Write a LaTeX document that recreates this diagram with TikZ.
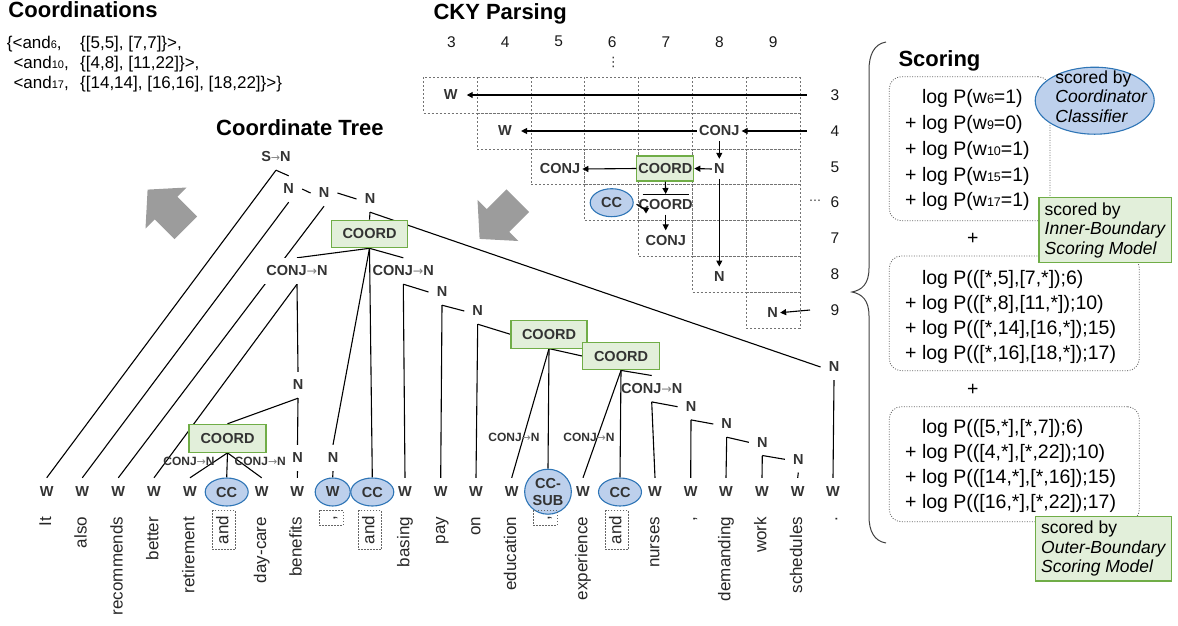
\documentclass[tikz,border=0pt]{standalone}
\usepackage{fontspec}
\setmainfont{Liberation Sans}
\newfontfamily\arrowfont{DejaVu Sans}
\usetikzlibrary{shapes.geometric,arrows.meta}
\pgfdeclarelayer{background}
\pgfsetlayers{background,main}
\definecolor{txt}{HTML}{333333}
\definecolor{gfill}{HTML}{E2EFDA}
\definecolor{gline}{HTML}{70AD47}
\definecolor{bfill}{HTML}{BDD0EC}
\definecolor{bline}{HTML}{2E75B6}
\definecolor{garrow}{HTML}{9C9C9C}
\newcommand\mylab{\fontsize{14.5}{17}\selectfont\bfseries}
\newcommand\mysmall{\fontsize{12}{14}\selectfont\bfseries}
\newcommand\myword{\fontsize{17}{20}\selectfont}
\newcommand\mynum{\fontsize{15.5}{18}\selectfont}
\newcommand\myscore{\fontsize{19.5}{24}\selectfont}
\newcommand\mynote{\fontsize{17.5}{19.5}\selectfont}
\newcommand\mytitle{\fontsize{22}{26}\selectfont\bfseries}
\newcommand\mycoord{\fontsize{17}{20}\selectfont}
\newcommand\myarr[1]{{\arrowfont\fontsize{#1}{#1}\selectfont\mdseries\color{gray}→}}
\newcommand\ssub[1]{{\fontsize{12.5}{12.5}\selectfont #1}}
\newcommand\csub[1]{{\fontsize{11}{11}\selectfont #1}}
\begin{document}
\begin{tikzpicture}[x=1pt,y=-1pt,
  title/.style={font=\mytitle, inner sep=0pt, text=black, anchor=base west},
  cl/.style={font=\mycoord, inner sep=0pt, anchor=base west, text=black},
  lab/.style={font=\mylab, text=txt, inner xsep=8pt, inner ysep=0pt, minimum height=26pt},
  wlab/.style={font=\mylab, text=txt, inner xsep=3pt, inner ysep=0pt, minimum height=28pt},
  ccell/.style={ellipse, draw=bline, fill=bfill, line width=1.1pt, font=\mylab, text=txt, inner sep=0pt, minimum width=43pt, minimum height=28pt},
  coordbox/.style={draw=gline, fill=gfill, line width=1.1pt, font=\mylab, text=txt, minimum width=76pt, minimum height=27.5pt, inner sep=0pt},
  smalllab/.style={font=\mysmall, text=txt, inner sep=0pt},
  word/.style={rotate=90, anchor=east, font=\myword, text=black!85, inner sep=0pt, text height=12.2pt, text depth=3.6pt},
  wordbox/.style={word, draw=black!60, dash pattern=on 1.5pt off 1.5pt, line width=0.8pt, inner xsep=5.5pt, inner ysep=3.3pt},
  tline/.style={line width=1.1pt, black},
  ckylab/.style={font=\mylab, text=txt, inner xsep=2pt, inner ysep=5pt},
  ckyarr/.style={-{Triangle[length=6pt,width=6pt]}, line width=1.1pt, black},
  cell/.style={draw=black!55, dash pattern=on 2pt off 2pt, line width=0.8pt},
  num/.style={font=\mynum, text=black!90, inner sep=0pt},
  scorebox/.style={draw=black!60, dash pattern=on 1pt off 1.5pt, rounded corners=12pt, line width=0.8pt, inner sep=0pt},
  sline/.style={font=\myscore, anchor=base west, inner sep=0pt, text=black},
  notebox/.style={draw=gline, fill=gfill, line width=1.1pt, font=\mynote, text=black, align=left, inner sep=0pt},
  bigarrow/.style={fill=garrow, draw=none}
]
\useasboundingbox (0,0) rectangle (1178,625);

% ---------------- titles ----------------
\node[title] (t1) at (8.3,17.7) {Coordinations};
\node[title] (t2) at (433.3,19) {CKY Parsing};
\node[title] (t3) at (216,135) {Coordinate Tree};
\node[title] (t4) at (898.3,66.5) {Scoring};

% ---------------- coordinations ----------------
\node[cl] (cl1) at (6.7,48.5) {\{<and\csub{6},};
\node[cl] (cl1b) at (80,48.5) {\{[5,5], [7,7]\}>,};
\node[cl] (cl2) at (13.3,68.3) {<and\csub{10},};
\node[cl] (cl2b) at (80,68.3) {\{[4,8], [11,22]\}>,};
\node[cl] (cl3) at (13.3,88) {<and\csub{17},};
\node[cl] (cl3b) at (80,88) {\{[14,14], [16,16], [18,22]\}>\}};

% ---------------- gray block arrows ----------------
\fill[bigarrow] (147.6,189.6) -- (186.5,187.5) -- (177.3,196.7) -- (197.1,216.5) -- (174.5,239.1) -- (154.7,219.3) -- (145.5,228.5) -- cycle;
\fill[bigarrow] (479.6,238.9) -- (518.5,241) -- (509.3,231.8) -- (529.1,212) -- (506.5,189.4) -- (486.7,209.2) -- (477.5,199.9) -- cycle;

% ---------------- CKY table ----------------
\foreach \c [count=\i from 0] in {3,...,9} {
  \node[num] (hc\c) at ({451.5+53.6*\i},41.7) {\c};
  \node[num] (hr\c) at (835,{95.2+35.8*\i}) {\c};
}
\node[font=\arrowfont\fontsize{13}{13}\selectfont, inner sep=0pt, text=black!80] (vd) at (613.3,62) {⋮};
\node[font=\arrowfont\fontsize{12}{12}\selectfont, inner sep=0pt, text=black!80] (hd) at (815,202.7) {⋯};
\begin{pgfonlayer}{background}
\foreach \r in {3,...,9} {
  \foreach \c in {\r,...,9} {
    \draw[cell] ({423.3+53.8*(\c-3)},{77.3+35.8*(\r-3)}) rectangle ++(53.8,35.8);
  }
}
\end{pgfonlayer}
\node[ckylab] (k3w) at (450.7,95) {W};
\node[ckylab] (k4w) at (505,131) {W};
\node[ckylab] (k4c) at (719.3,131) {CONJ};
\node[ckylab] (k5c) at (560,169) {CONJ};
\node[draw=gline, fill=gfill, line width=1.1pt, font=\mylab, text=txt, minimum width=57pt, minimum height=25pt, inner sep=0pt] (k5co) at (665.3,168.5) {COORD};
\node[ckylab] (k5n) at (719.3,169) {N};
\node[ccell] (k6cc) at (611.7,202.7) {CC};
\node[ckylab] (k6co) at (665.7,204.3) {COORD};
\node[ckylab] (k7c) at (665.7,240.7) {CONJ};
\node[ckylab] (k8n) at (719.3,276.7) {N};
\node[ckylab] (k9n) at (772.7,312.7) {N};
\coordinate (s3) at (806.7,95);
\coordinate (s4) at (806.7,131);
\coordinate (s9) at (810,310);
\draw[line width=1pt] ([xshift=6pt,yshift=-1pt]k6co.north west) -- ([xshift=-6pt,yshift=-1pt]k6co.north east);
\draw[ckyarr, shorten >=7pt] (s3) -- (k3w.east);
\draw[ckyarr] (s4) -- (k4c.east);
\draw[ckyarr, shorten >=7pt] (k4c.west) -- (k4w.east);
\draw[ckyarr] (k4c.south) -- (k5n.north);
\draw[ckyarr] (k5n.west) -- (k5co.east);
\draw[ckyarr] (k5co.west) -- (k5c.east);
\draw[ckyarr] (k5n.south) -- (k8n.north);
\draw[ckyarr] (k5co.south) -- (k6co.north);
\draw[ckyarr, shorten >=10pt] (k6co.west) -- (k6cc.east);
\draw[ckyarr] (k6co.south) -- (k7c.north);
\draw[ckyarr] (s9) -- (k9n.east);

% ---------------- tree: leaves ----------------
\node[wlab] (w0) at (46.7,492) {W};
\node[wlab] (w1) at (82.3,492) {W};
\node[wlab] (w2) at (118.3,492) {W};
\node[wlab] (w3) at (154,492) {W};
\node[wlab] (w4) at (190,492) {W};
\node[ccell] (w5) at (226.7,492) {CC};
\node[wlab] (w6) at (261.7,492) {W};
\node[wlab] (w7) at (297.3,492) {W};
\node[ccell, minimum width=35pt] (w8) at (332.7,492) {W};
\node[ccell] (w9) at (372.3,492) {CC};
\node[wlab] (w10) at (405,492) {W};
\node[wlab] (w11) at (440.7,492) {W};
\node[wlab] (w12) at (476,492) {W};
\node[wlab] (w13) at (511.7,492) {W};
\node[ccell, minimum width=46.7pt, minimum height=45pt, align=center] (w14) at (548,491.7) {CC-\\SUB};
\node[wlab] (w15) at (583,492) {W};
\node[ccell] (w16) at (620,492) {CC};
\node[wlab] (w17) at (655,492) {W};
\node[wlab] (w18) at (690.7,492) {W};
\node[wlab] (w19) at (726,492) {W};
\node[wlab] (w20) at (762,492) {W};
\node[wlab] (w21) at (797.7,492) {W};
\node[wlab] (w22) at (833,492) {W};

% words
\node[word] (x0) at (46.7,516.7) {It};
\node[word] (x1) at (82.3,516.7) {also};
\node[word] (x2) at (118.3,516.7) {recommends};
\node[word] (x3) at (154,516.7) {better};
\node[word] (x4) at (190,516.7) {retirement};
\node[wordbox] (x5) at (224,510) {and};
\node[word] (x6) at (261.7,516.7) {day-care};
\node[word] (x7) at (297.3,516.7) {benefits};
\node[wordbox, inner xsep=5pt, inner ysep=4pt, minimum width=15pt] (x8) at (331,510) {,};
\node[wordbox] (x9) at (370,510) {and};
\node[word] (x10) at (405,516.7) {basing};
\node[word] (x11) at (440.7,516.7) {pay};
\node[word] (x12) at (476,516.7) {on};
\node[word] (x13) at (511.7,516.7) {education};
\node[wordbox, inner xsep=5pt, inner ysep=4pt, minimum width=15pt] (x14) at (545.3,510) {,};
\node[word] (x15) at (583,516.7) {experience};
\node[wordbox] (x16) at (617,510) {and};
\node[word] (x17) at (655,516.7) {nurses};
\node[word] (x18) at (690.7,516.7) {,};
\node[word] (x19) at (726,516.7) {demanding};
\node[word] (x20) at (762,516.7) {work};
\node[word] (x21) at (797.7,516.7) {schedules};
\node[word] (x22) at (833,516.7) {.};

% ---------------- tree: inner nodes ----------------
\node[lab] (sn) at (276,157) {S\myarr{11}N};
\node[lab] (n1) at (288.7,189) {N};
\node[lab] (n2) at (324,193) {N};
\node[lab] (n3) at (370,199) {N};
\node[coordbox] (co) at (369.5,234) {COORD};
\node[lab, fill=white] (cjl) at (297,271) {CONJ\myarr{12.5}N};
\node[lab] (cjr) at (403.3,271) {CONJ\myarr{12.5}N};
\node[lab] (nm) at (298,385) {N};
\node[lab] (n7) at (297.5,458) {N};
\node[lab] (n8) at (333,458) {N};
\node[coordbox, minimum width=77pt, minimum height=28pt] (c1) at (227.5,438.3) {COORD};
\node[lab] (na) at (442,292) {N};
\node[lab] (nb) at (477.7,311) {N};
\node[coordbox] (c2) at (549,334.3) {COORD};
\node[coordbox, minimum width=76.6pt, minimum height=27.7pt] (c3) at (621,356) {COORD};
\node[lab] (cjr2) at (651.7,388.7) {CONJ\myarr{12.5}N};
\node[lab] (nc) at (691,406.7) {N};
\node[lab] (nd) at (726.7,424) {N};
\node[lab] (ne) at (762.3,442.3) {N};
\node[lab] (nf) at (798.3,459.3) {N};
\node[lab] (nr) at (834,367) {N};
\node[smalllab] (sl1) at (189,461) {CONJ\myarr{11}N};
\node[smalllab] (sl2) at (260.3,461) {CONJ\myarr{11}N};
\node[smalllab] (sl3) at (514,437) {CONJ\myarr{11}N};
\node[smalllab] (sl4) at (589,437) {CONJ\myarr{11}N};

\begin{pgfonlayer}{background}
\draw[tline] (sn.south) -- (w0.north);
\draw[tline] (sn.south) -- (n1.north);
\draw[tline] (n1.south) -- (w1.north);
\draw[tline] (n1.east) -- (n2.west);
\draw[tline] (n2.south) -- (w2.north);
\draw[tline] (n2.east) -- (n3.west);
\draw[tline] (n3.south) -- (co.north);
\draw[tline] (n3.south) -- (nr.west);
\draw[tline] (nr.south) -- (w22.north);
\draw[tline] (co.south) -- (cjl.north);
\draw[tline] (co.south) -- (cjr.north);
\draw[tline] (co.south) -- (n8.north);
\draw[tline] (co.south) -- (w9.north);
\draw[tline] (n8.south) -- (w8.north);
\draw[tline] (cjl.south) -- (w3.north);
\draw[tline] (cjl.south) -- (nm.north);
\draw[tline] (nm.south) -- (c1.north);
\draw[tline] (nm.south) -- (n7.north);
\draw[tline] (n7.south) -- (w7.north);
\draw[tline] (c1.south) -- (w4.north);
\draw[tline] (c1.south) -- (w5.north);
\draw[tline] (c1.south) -- (w6.north);
\draw[tline] (cjr.south) -- (na.west);
\draw[tline] (cjr.south) -- (w10.north);
\draw[tline] (na.south) -- (nb.west);
\draw[tline] (na.south) -- (w11.north);
\draw[tline] (nb.south) -- (c2.west);
\draw[tline] (nb.south) -- (w12.north);
\draw[tline] (c2.south) -- (w13.north);
\draw[tline] (c2.south) -- (w14.north);
\draw[tline] (c2.south) -- (c3.west);
\draw[tline] (c3.south) -- (w15.north);
\draw[tline] (c3.south) -- (w16.north);
\draw[tline] (c3.south) -- (cjr2.north);
\draw[tline] (cjr2.south) -- (nc.west);
\draw[tline] (cjr2.south) -- (w17.north);
\draw[tline] (nc.south) -- (nd.west);
\draw[tline] (nc.south) -- (w18.north);
\draw[tline] (nd.south) -- (ne.west);
\draw[tline] (nd.south) -- (w19.north);
\draw[tline] (ne.south) -- (nf.west);
\draw[tline] (ne.south) -- (w20.north);
\draw[tline] (nf.south) -- (w21.north);
\end{pgfonlayer}

% ---------------- scoring ----------------
\draw[line width=1pt, black!75] (886,42) .. controls (874,44) and (869,55) .. (869,70) -- (869,268) .. controls (869,284) and (862,290) .. (852,292) .. controls (862,294) and (869,300) .. (869,316) -- (869,516) .. controls (869,531) and (874,541) .. (886,543);

\node[scorebox, minimum width=160.7pt, minimum height=144pt] (sb1) at (969.65,148.7) {};
\node[scorebox, minimum width=250pt, minimum height=114.7pt] (sb2) at (1014.3,313.35) {};
\node[scorebox, minimum width=250pt, minimum height=115pt] (sb3) at (1014.3,464.2) {};

\node[sline] (p1) at (905,103.7) {\phantom{+\ }log P(w\ssub{6}=1)};
\node[sline] (p2) at (905,129.5) {+ log P(w\ssub{9}=0)};
\node[sline] (p3) at (905,155.3) {+ log P(w\ssub{10}=1)};
\node[sline] (p4) at (905,181.1) {+ log P(w\ssub{15}=1)};
\node[sline] (p5) at (905,206.9) {+ log P(w\ssub{17}=1)};

\node[sline] (q1) at (905,284.3) {\phantom{+\ }log P(([*,5],[7,*]);6)};
\node[sline] (q2) at (905,309.3) {+ log P(([*,8],[11,*]);10)};
\node[sline] (q3) at (905,334.3) {+ log P(([*,14],[16,*]);15)};
\node[sline] (q4) at (905,359.3) {+ log P(([*,16],[18,*]);17)};

\node[sline] (r1) at (905,433.7) {\phantom{+\ }log P(([5,*],[*,7]);6)};
\node[sline] (r2) at (905,458.7) {+ log P(([4,*],[*,22]);10)};
\node[sline] (r3) at (905,483.7) {+ log P(([14,*],[*,16]);15)};
\node[sline] (r4) at (905,508.7) {+ log P(([16,*],[*,22]);17)};

\node[font=\myscore, inner sep=0pt] (plus1) at (972.7,239.3) {+};
\node[font=\myscore, inner sep=0pt] (plus2) at (972.7,390) {+};

\node[ellipse, draw=bline, fill=bfill, line width=1.1pt, minimum width=119pt, minimum height=67pt, inner sep=0pt] (clf) at (1094.7,100.7) {};
\node[font=\mynote, align=left, inner sep=0pt] (clft) at (1101.5,96.5) {scored by\\\textit{Coordinator}\\\textit{Classifier}};

\node[notebox, minimum width=132.7pt, minimum height=64.6pt] (gb1) at (1105.3,230) {scored by\\\textit{Inner-Boundary}\\\textit{Scoring Model}};
\node[notebox, minimum width=136pt, minimum height=64.3pt] (gb2) at (1103.7,548.8) {scored by\\\textit{Outer-Boundary}\\\textit{Scoring Model}};
\end{tikzpicture}
\end{document}
